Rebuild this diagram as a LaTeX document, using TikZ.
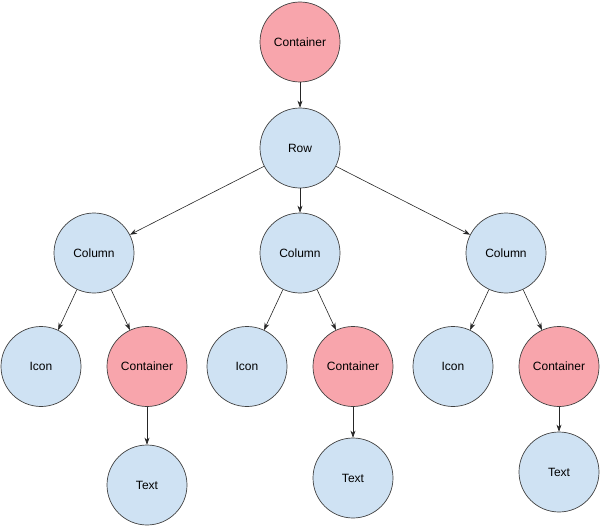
\documentclass[tikz,border=0pt]{standalone}
\usepackage{fontspec}
\setmainfont{Liberation Sans}
\usepackage{tikz}
\usetikzlibrary{positioning, arrows.meta}
\definecolor{wrappink}{HTML}{F8A5AC}
\definecolor{widgetblue}{HTML}{CFE2F3}
\tikzset{
    ->, % every connector is an arrow
    every node/.style={circle, draw=black!75, line width=0.7pt, minimum size=80pt, inner sep=0pt, font=\fontsize{12}{14}\selectfont}, % the round widget nodes
    wrap/.style={fill=wrappink}, % containers
    widget/.style={fill=widgetblue}, % everything else
    node distance=106pt, % centre to centre. Change where the levels differ.
    >={Stealth[length=7pt, width=5pt]}, % small filled heads
}

\begin{document}
\begin{tikzpicture}[line width=0.6pt, draw=black!85]
                  \useasboundingbox (0,0) rectangle (600pt,-527pt);
                  \node[wrap] (top) at (300pt,-42pt) {Container};
                  \node[widget, below of=top] (row) {Row};
                  \node[widget, node distance=105pt, below of=row] (colB) {Column};
                  \node[widget, node distance=206pt, left of=colB] (colA) {Column};
                  \node[widget, node distance=206pt, right of=colB] (colC) {Column};
                  \node[widget, node distance=113.5pt, below of=colA, xshift=-53pt] (iconA) {Icon};
                  \node[wrap, right of=iconA] (boxA) {Container};
                  \node[widget, node distance=113.5pt, below of=colB, xshift=-53pt] (iconB) {Icon};
                  \node[wrap, right of=iconB] (boxB) {Container};
                  \node[widget, node distance=113.5pt, below of=colC, xshift=-53pt] (iconC) {Icon};
                  \node[wrap, right of=iconC] (boxC) {Container};
                  \node[widget, node distance=118.5pt, below of=boxA] (textA) {Text};
                  \node[widget, node distance=111.5pt, below of=boxB] (textB) {Text};
                  \node[widget, node distance=105.5pt, below of=boxC] (textC) {Text};
                  \draw (top) edge (row)
                  (row) edge (colA)
                  (row) edge (colB)
                  (row) edge (colC)
                  (colA) edge (iconA)
                  (colA) edge (boxA)
                  (colB) edge (iconB)
                  (colB) edge (boxB)
                  (colC) edge (iconC)
                  (colC) edge (boxC)
                  (boxA) edge (textA)
                  (boxB) edge (textB)
                  (boxC) edge (textC);
              \end{tikzpicture}
\end{document}
